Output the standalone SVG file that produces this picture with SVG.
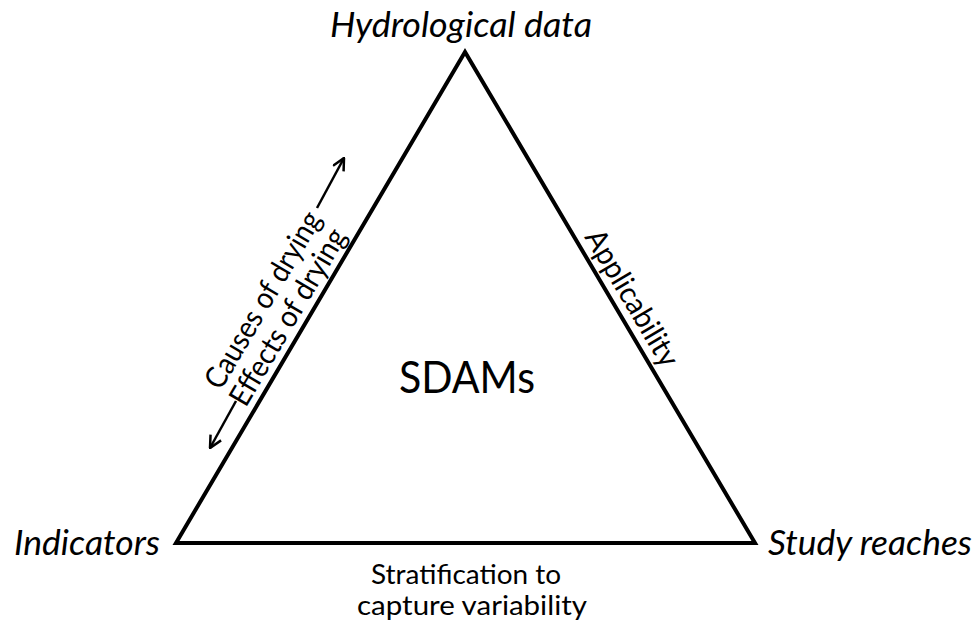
<svg xmlns="http://www.w3.org/2000/svg" width="979" height="626" viewBox="0 0 979 626">
<style>
.t{font-family:Lato,"Open Sans","Liberation Sans",sans-serif;fill:#000;}
.it{font-style:italic;font-size:34px;}
.lbl{font-size:30px;}
.bot{font-size:26px;}
.arr{stroke:#000;stroke-width:2.5;fill:none;}
</style>
<defs>
<marker id="ah" viewBox="0 0 14 14" refX="13" refY="7" markerWidth="14" markerHeight="14" markerUnits="userSpaceOnUse" orient="auto">
<path d="M1,1 L13,7 L1,13" fill="none" stroke="#000" stroke-width="2.5"/>
</marker>
</defs>
<rect width="979" height="626" fill="#fff"/>
<g id="triangle">
<polygon points="465,52 176,543 755,543" fill="none" stroke="#000" stroke-width="4" stroke-linejoin="miter"/>
</g>
<g id="center">
<text class="t" x="467" y="393" font-size="44" text-anchor="middle" textLength="136" lengthAdjust="spacingAndGlyphs">SDAMs</text>
</g>
<g id="hydro">
<text class="t it" x="330" y="37" textLength="262" lengthAdjust="spacingAndGlyphs">Hydrological data</text>
</g>
<g id="indicators">
<text class="t it" x="14" y="555" textLength="146" lengthAdjust="spacingAndGlyphs">Indicators</text>
</g>
<g id="reaches">
<text class="t it" x="768" y="555" textLength="204" lengthAdjust="spacingAndGlyphs">Study reaches</text>
</g>
<g id="edge-labels">
<text class="t lbl" transform="translate(263,300) rotate(-59.5)" x="0" y="10" text-anchor="middle" textLength="200" lengthAdjust="spacingAndGlyphs">Causes of drying</text>
<text class="t lbl" transform="translate(288,317) rotate(-59.5)" x="0" y="10" text-anchor="middle" textLength="200" lengthAdjust="spacingAndGlyphs">Effects of drying</text>
<text class="t lbl" transform="translate(632,298) rotate(59.3)" x="0" y="10" text-anchor="middle" textLength="154" lengthAdjust="spacingAndGlyphs">Applicability</text>
<text class="t bot" x="466" y="584" text-anchor="middle" textLength="190" lengthAdjust="spacingAndGlyphs">Stratification to</text>
<text class="t bot" x="472" y="615" text-anchor="middle" textLength="230" lengthAdjust="spacingAndGlyphs">capture variability</text>
</g>
<g id="connectors">
<line class="arr" x1="236" y1="401" x2="210" y2="448" marker-end="url(#ah)"/>
<line class="arr" x1="317" y1="208" x2="344" y2="158" marker-end="url(#ah)"/>
</g>
</svg>
